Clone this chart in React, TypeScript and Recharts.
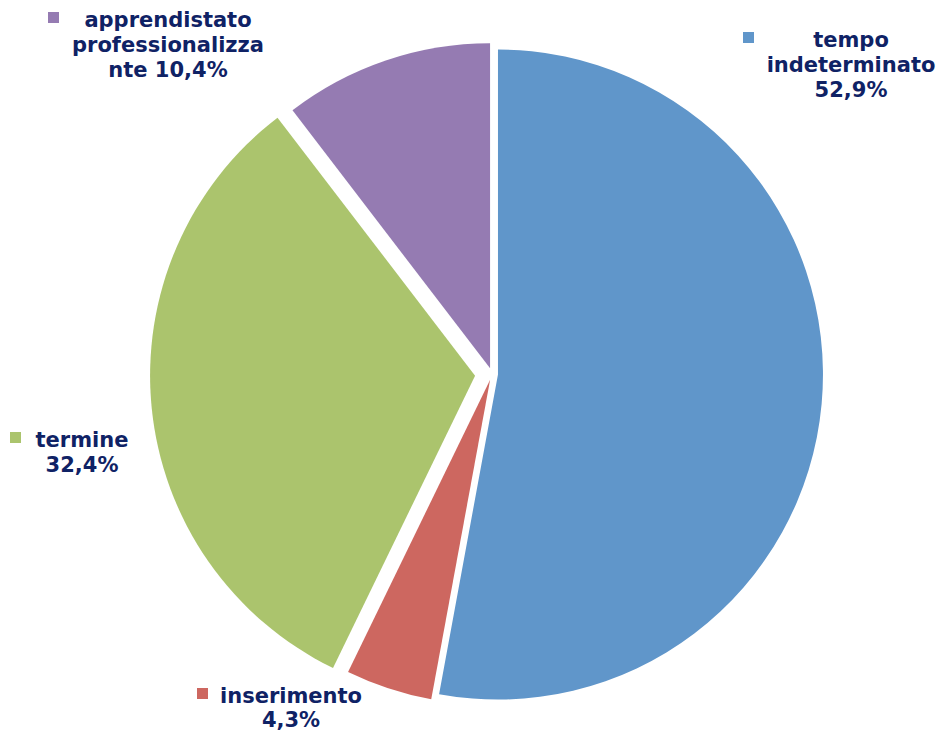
import { PieChart, Pie, Cell } from 'recharts';

const categories = ['tempo indeterminato', 'inserimento', 'termine', 'apprendistato professionalizzante'];
const shares = [52.9, 4.3, 32.4, 10.4];
const shareLabels = ['52,9%', '4,3%', '32,4%', '10,4%'];
// category text as Excel wrapped it inside each label box
const labelLines = [
  ['tempo', 'indeterminato', '52,9%'],
  ['inserimento', '4,3%'],
  ['termine', '32,4%'],
  ['apprendistato', 'professionalizza', 'nte 10,4%'],
];

const colors = ['#6096CA', '#CD6760', '#ABC46D', '#957BB2'];
const explode = [6, 6, 17, 6];
const labelBoxes = [
  { x: 851, y: 47, key: 743, line: 25 },
  { x: 291, y: 703, key: 197, line: 24 },
  { x: 82, y: 447, key: 10, line: 25 },
  { x: 168, y: 27, key: 48, line: 25 },
];

const WIDTH = 937;
const HEIGHT = 731;
const CX = 492;
const CY = 374;
const RADIUS = 325;
const FONT = 21;
const TEXT_COLOR = '#0F2265';

const data = categories.map((name, i) => ({ name, value: shares[i], label: shareLabels[i] }));
const total = shares.reduce((a, b) => a + b, 0);

function midAngle(i: number) {
  const before = shares.slice(0, i).reduce((a, b) => a + b, 0);
  return 90 - ((before + shares[i] / 2) / total) * 360;
}

function renderLabel(props: any) {
  const i = props.index;
  const box = labelBoxes[i];
  const lines = labelLines[i];
  return (
    <g key={`label-${i}`}>
      <rect x={box.key} y={box.y - 15} width={11} height={11} fill={colors[i]} />
      <text
        x={box.x}
        y={box.y}
        textAnchor="middle"
        fontFamily="DejaVu Sans, Verdana, sans-serif"
        fontWeight="bold"
        fontSize={FONT}
        fill={TEXT_COLOR}
      >
        {lines.map((line, j) => (
          <tspan key={j} x={box.x} dy={j === 0 ? 0 : box.line}>
            {line}
          </tspan>
        ))}
      </text>
    </g>
  );
}

export default function App() {
  return (
    <div style={{ position: 'fixed', left: 0, top: 0, width: WIDTH, height: HEIGHT, background: '#fff' }}>
      <PieChart width={WIDTH} height={HEIGHT} margin={{ top: 0, right: 0, bottom: 0, left: 0 }}>
        {data.map((d, i) => {
          const a = (midAngle(i) * Math.PI) / 180;
          return (
            <Pie
              key={d.name}
              data={data}
              dataKey="value"
              nameKey="name"
              cx={CX + explode[i] * Math.cos(a)}
              cy={CY - explode[i] * Math.sin(a)}
              outerRadius={RADIUS}
              startAngle={90}
              endAngle={-270}
              stroke="none"
              isAnimationActive={false}
              labelLine={false}
              label={i === 0 ? renderLabel : false}
            >
              {data.map((_, j) => (
                <Cell key={j} fill={j === i ? colors[j] : 'none'} stroke="none" />
              ))}
            </Pie>
          );
        })}
      </PieChart>
    </div>
  );
}
